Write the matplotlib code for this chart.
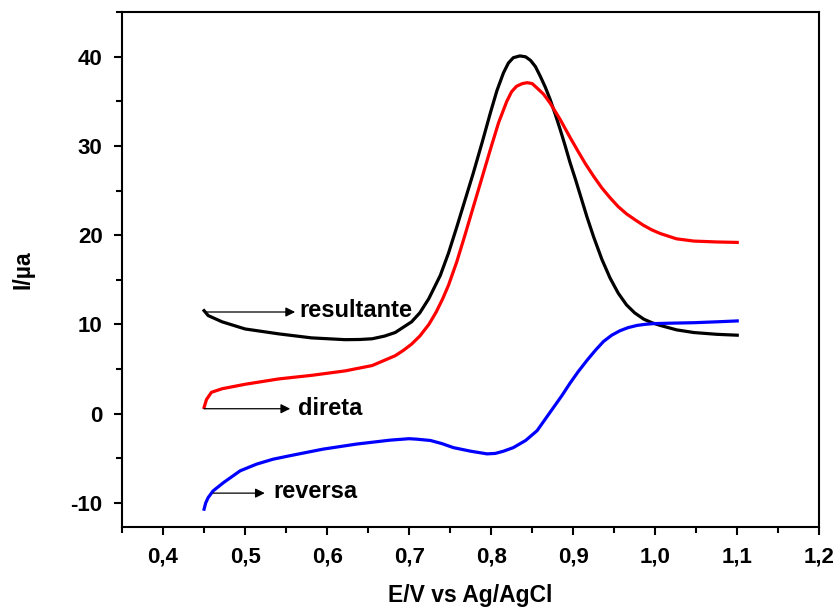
import matplotlib
matplotlib.use("Agg")
import matplotlib.pyplot as plt
from matplotlib.ticker import MultipleLocator, FuncFormatter

plt.rcParams['font.family'] = ['Liberation Sans', 'DejaVu Sans']
plt.rcParams['font.weight'] = 'bold'

# resultante (preto)
res_x = [0.450, 0.455, 0.472, 0.500, 0.541, 0.581, 0.622, 0.640, 0.655, 0.670,
         0.683, 0.703, 0.713, 0.724, 0.738, 0.748, 0.758, 0.768, 0.778, 0.789,
         0.799, 0.807, 0.815, 0.821, 0.827, 0.835, 0.842, 0.848, 0.854, 0.860,
         0.866, 0.872, 0.878, 0.884, 0.890, 0.896, 0.903, 0.909, 0.917, 0.925,
         0.935, 0.945, 0.955, 0.965, 0.975, 0.986, 0.996, 1.006, 1.026, 1.047,
         1.075, 1.100]
res_y = [11.55, 11.0, 10.3, 9.5, 8.95, 8.5, 8.3, 8.32, 8.4, 8.7,
         9.1, 10.3, 11.3, 12.9, 15.5, 18.0, 20.9, 23.9, 26.9, 30.4,
         33.7, 36.2, 38.2, 39.3, 39.9, 40.1, 40.0, 39.6, 38.9, 37.8,
         36.6, 35.2, 33.6, 31.9, 30.1, 28.2, 26.2, 24.4, 22.0, 19.8,
         17.3, 15.2, 13.5, 12.2, 11.3, 10.6, 10.2, 9.9, 9.4, 9.1,
         8.9, 8.8]

# direta (vermelho)
dir_x = [0.450, 0.453, 0.459, 0.472, 0.500, 0.541, 0.581, 0.622, 0.655, 0.683,
         0.693, 0.703, 0.713, 0.724, 0.733, 0.741, 0.748, 0.758, 0.768, 0.778,
         0.789, 0.799, 0.809, 0.819, 0.825, 0.831, 0.838, 0.844, 0.850, 0.856,
         0.864, 0.872, 0.884, 0.896, 0.906, 0.915, 0.925, 0.935, 0.945, 0.955,
         0.965, 0.976, 0.986, 0.996, 1.006, 1.026, 1.047, 1.075, 1.100]
dir_y = [0.7, 1.6, 2.4, 2.8, 3.3, 3.9, 4.3, 4.8, 5.4, 6.5,
         7.1, 7.8, 8.7, 10.0, 11.4, 12.9, 14.4, 17.0, 20.0, 23.1,
         26.5, 29.6, 32.6, 35.0, 36.1, 36.7, 37.0, 37.1, 37.0, 36.5,
         35.8, 34.8, 33.0, 31.0, 29.4, 28.0, 26.6, 25.3, 24.2, 23.2,
         22.4, 21.7, 21.1, 20.6, 20.2, 19.6, 19.35, 19.25, 19.2]

# reversa (azul)
rev_x = [0.450, 0.452, 0.455, 0.461, 0.474, 0.494, 0.514, 0.534, 0.555, 0.595,
         0.636, 0.677, 0.700, 0.709, 0.726, 0.740, 0.754, 0.775, 0.795, 0.805,
         0.815, 0.827, 0.842, 0.856, 0.866, 0.876, 0.886, 0.896, 0.906, 0.917,
         0.927, 0.937, 0.947, 0.957, 0.967, 0.978, 0.988, 0.998, 1.020, 1.047,
         1.075, 1.100]
rev_y = [-10.7, -10.0, -9.4, -8.65, -7.7, -6.4, -5.65, -5.1, -4.7, -3.97,
         -3.4, -2.96, -2.8, -2.85, -3.0, -3.35, -3.8, -4.2, -4.5, -4.45,
         -4.2, -3.8, -3.0, -1.9, -0.6, 0.7, 2.0, 3.4, 4.7, 6.0,
         7.1, 8.1, 8.8, 9.3, 9.65, 9.9, 10.02, 10.1, 10.15, 10.2,
         10.3, 10.4]

labels = ["resultante", "direta", "reversa"]
label_pos = [(0.566, 11.6), (0.565, 0.6), (0.534, -8.7)]
arrow_from = [(0.451, 11.4), (0.450, 0.56), (0.461, -8.9)]
arrow_to = [(0.561, 11.4), (0.555, 0.56), (0.524, -8.9)]

fig = plt.figure(figsize=(8.37, 6.10), dpi=100)
ax = fig.add_axes([0.1458, 0.136, 0.833, 0.844])

ax.plot(res_x, res_y, color='black', lw=2.3)
ax.plot(dir_x, dir_y, color='red', lw=2.3)
ax.plot(rev_x, rev_y, color='blue', lw=2.3)

for lab, (tx, ty), p0, p1 in zip(labels, label_pos, arrow_from, arrow_to):
    ax.annotate("", xy=p1, xytext=p0,
                arrowprops=dict(arrowstyle='-|>', color='black', lw=0.9,
                                mutation_scale=14, shrinkA=0, shrinkB=0))
    ax.text(tx, ty, lab, fontsize=17, fontweight='bold', va='center', ha='left')

ax.set_xlim(0.35, 1.2)
ax.set_ylim(-12.7, 45)
ax.xaxis.set_major_locator(MultipleLocator(0.1))
ax.xaxis.set_minor_locator(MultipleLocator(0.05))
ax.yaxis.set_major_locator(MultipleLocator(10))
ax.yaxis.set_minor_locator(MultipleLocator(5))
ax.xaxis.set_major_formatter(FuncFormatter(lambda v, p: f"{v:.1f}".replace('.', ',')))
ax.yaxis.set_major_formatter(FuncFormatter(lambda v, p: f"{v:.0f}"))

ax.tick_params(which='both', direction='out', top=False, right=False,
               width=1.5, labelsize=16)
ax.tick_params(which='major', length=6, pad=8)
ax.tick_params(which='minor', length=4)
for s in ax.spines.values():
    s.set_linewidth(1.5)

ax.set_xlabel("E/V vs Ag/AgCl", fontsize=16.5, fontweight='bold', labelpad=12)
ax.set_ylabel("I/µa", fontsize=16.5, fontweight='bold', labelpad=26)

fig.savefig("out.png", dpi=100)
